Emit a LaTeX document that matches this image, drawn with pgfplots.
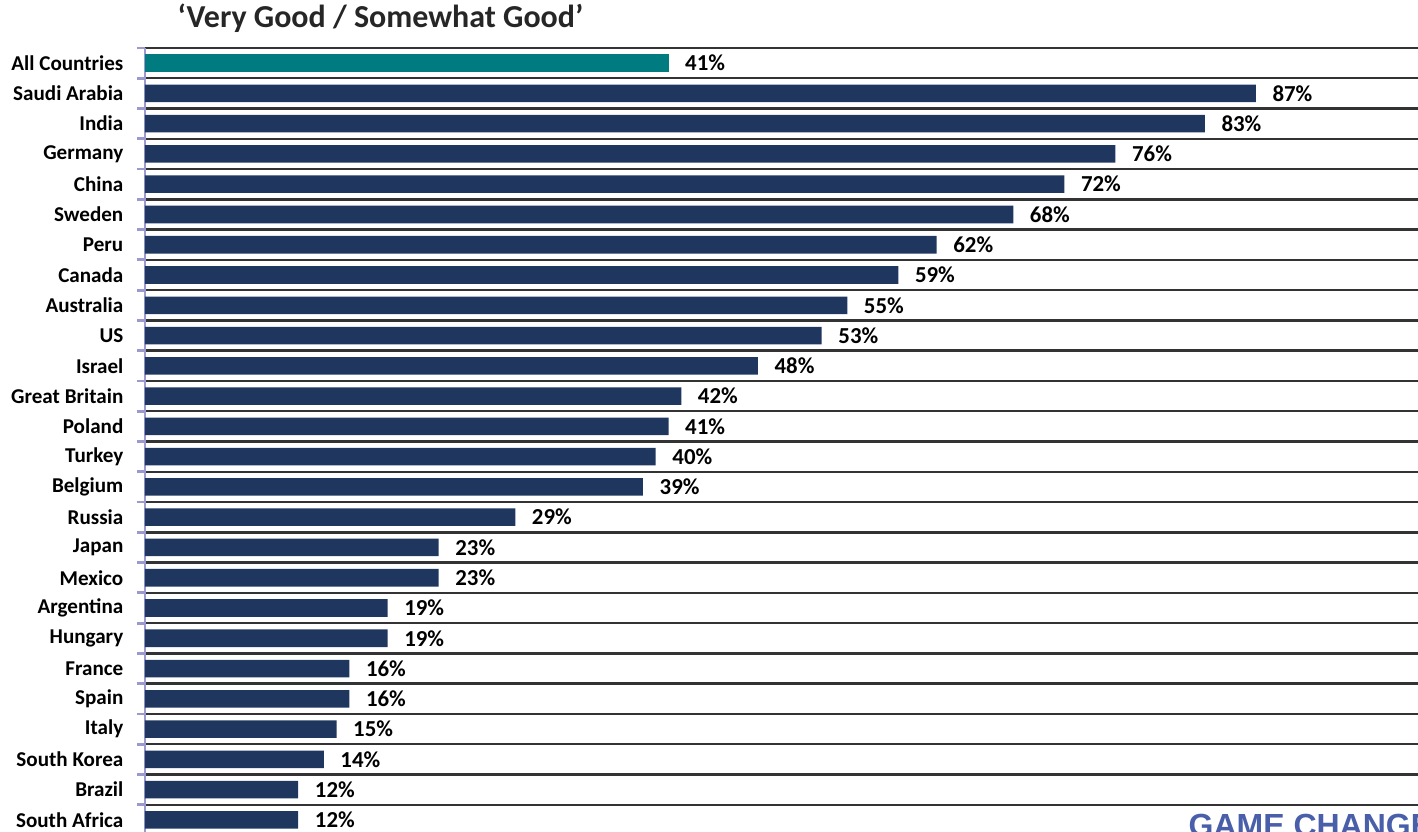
\documentclass[border=0pt]{standalone}
\usepackage{pgfplots}
\pgfplotsset{compat=1.18}
\usepackage{fontspec}
\setmainfont{Carlito}
\newfontfamily\logofont{Liberation Sans}
\definecolor{navy}{HTML}{1F375F}
\definecolor{tealbar}{HTML}{007B7F}
\definecolor{lav}{HTML}{9A9ACF}
\definecolor{logoblue}{HTML}{4A5FAA}
\begin{document}
\begin{tikzpicture}[x=1cm,y=1cm]
\begin{axis}[
  at={(1.45cm,0cm)}, anchor=south west,
  scale only axis, width=12.73cm, height=7.84cm,
  xmin=0, xmax=99.7, ymin=-0.5, ymax=25.4, y dir=reverse,
  axis x line=none, axis y line*=left,
  y axis line style={lav, line width=0.8pt, -},
  ytick={-0.5,0.5,...,24.5}, yticklabels={},
  tick align=outside, major tick length=0.08cm,
  every tick/.style={lav, line width=0.8pt},
  ymajorgrids, major grid style={black!80, line width=0.7pt},
  extra y ticks={0,1,...,25},
  extra y tick labels={All Countries,Saudi Arabia,India,Germany,China,Sweden,Peru,Canada,Australia,US,Israel,Great Britain,Poland,Turkey,Belgium,Russia,Japan,Mexico,Argentina,Hungary,France,Spain,Italy,South Korea,Brazil,South Africa},
  extra y tick style={major tick length=0pt, grid=none},
  yticklabel style={font=\bfseries\fontsize{6}{7}\selectfont, anchor=east, inner sep=0pt, xshift=-0.21cm},
  xbar, bar width=0.58, bar shift=0pt,
  nodes near coords={\pgfmathprintnumber[assume math mode=true]{\pgfplotspointmeta}\%},
  every node near coord/.append style={font=\bfseries\fontsize{6.5}{7.5}\selectfont, anchor=west, inner sep=0pt, xshift=0.16cm, text=black},
  clip=false,
]
\addplot[fill=tealbar, draw=none] coordinates {(41,0)};
\addplot[fill=navy, draw=none] coordinates {
(87,1) (83,2) (76,3) (72,4) (68,5) (62,6) (59,7) (55,8) (53,9) (48,10)
(42,11) (41,12) (40,13) (39,14) (29,15) (23,16) (23,17) (19,18) (19,19)
(16,20) (16,21) (15,22) (14,23) (12,24) (12,25)};
\end{axis}
\node[anchor=base west, inner sep=0pt, font=\bfseries\fontsize{9.1}{11}\selectfont, text=black!85] at (1.77,8.04) {‘Very Good / Somewhat Good’};
\node[anchor=base west, inner sep=0pt, font=\logofont\bfseries\fontsize{9.1}{10}\selectfont, text=logoblue] at (11.88,-0.05) {GAME CHANGERS};
\pgfresetboundingbox
\useasboundingbox (0,0) rectangle (14.18,8.32);
\end{tikzpicture}
\end{document}
